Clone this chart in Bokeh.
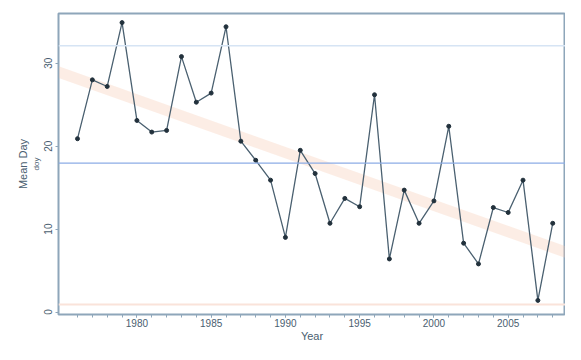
import numpy as np
from bokeh.plotting import figure
from bokeh.models import Range1d, Span, FixedTicker, LinearAxis
from bokeh.embed import file_html
from bokeh.resources import INLINE

years = list(range(1976, 2009))
mean_day = [20.9, 28.0, 27.2, 34.9, 23.1, 21.7, 21.9, 30.8, 25.3, 26.4, 34.4,
            20.6, 18.3, 15.9, 9.0, 19.5, 16.7, 10.7, 13.7, 12.7, 26.2, 6.4,
            14.7, 10.7, 13.4, 22.4, 8.3, 5.8, 12.6, 12.0, 15.9, 1.4, 10.7]
x_major_ticks = [1980, 1985, 1990, 1995, 2000, 2005]
y_ticks = [0, 10, 20, 30]
upper_ref = 32.1
lower_ref = 0.9

x0, x1 = 1974.72, 2008.86
y0, y1 = -0.3, 36.0

p = figure(width=565, height=344, output_backend="svg", toolbar_location=None,
           x_range=Range1d(x0, x1), y_range=Range1d(y0, y1),
           min_border_left=58, min_border_top=13, min_border_right=0, min_border_bottom=28)
p.background_fill_color = "white"
p.border_fill_color = "white"
p.xgrid.visible = False
p.ygrid.visible = False
p.outline_line_color = "#8ea6ba"
p.outline_line_width = 2

font = "Liberation Sans"
label_col = "#4a5e70"

# regression trend band
coef = np.polyfit(years, mean_day, 1)
tx = np.array([x0 - 1, x1 + 1])
p.line(tx, np.polyval(coef, tx), line_color="#f6c4a8", line_width=11, line_alpha=0.3)

# faint reference lines
p.add_layout(Span(location=upper_ref, dimension="width", line_color="#d6e4f4", line_width=1.5))
p.add_layout(Span(location=float(np.mean(mean_day)), dimension="width", line_color="#8cace6", line_width=1.3))
p.add_layout(Span(location=lower_ref, dimension="width", line_color="#fae3da", line_width=2))

p.line(years, mean_day, line_color="#4a6070", line_width=1.3)
p.scatter(years, mean_day, size=4, fill_color="#22313c", line_color="#22313c")

for ax in (p.xaxis[0], p.yaxis[0]):
    ax.axis_line_color = "#8ea6ba"
    ax.major_tick_line_color = "#8ea6ba"
    ax.minor_tick_line_color = "#8ea6ba"
    ax.major_tick_out = 3
    ax.major_tick_in = 0
    ax.minor_tick_out = 3
    ax.minor_tick_in = 0
    ax.major_label_text_font = font
    ax.major_label_text_font_size = "10px"
    ax.major_label_text_color = label_col
    ax.axis_label_text_font = font
    ax.axis_label_text_font_style = "normal"
    ax.axis_label_text_color = label_col

p.xaxis.ticker = FixedTicker(ticks=x_major_ticks, minor_ticks=years)
p.xaxis.axis_label = "Year"
p.xaxis.axis_label_text_font_size = "11px"
p.xaxis.major_label_standoff = 1
p.xaxis.axis_label_standoff = 0

p.yaxis.ticker = FixedTicker(ticks=y_ticks)
p.yaxis.major_label_orientation = "vertical"
p.yaxis.major_label_standoff = 3
p.yaxis.axis_label = "doy"
p.yaxis.axis_label_text_font_size = "8px"
p.yaxis.axis_label_standoff = 1

outer = LinearAxis(axis_label="Mean Day", axis_line_color=None,
                   major_tick_line_color=None, minor_tick_line_color=None,
                   major_label_text_font_size="0px", major_label_standoff=0,
                   axis_label_standoff=0, axis_label_text_font=font,
                   axis_label_text_font_size="11px", axis_label_text_font_style="normal",
                   axis_label_text_color=label_col, ticker=FixedTicker(ticks=[]))
p.add_layout(outer, "left")

open("out.html", "w").write(file_html(p, INLINE))
